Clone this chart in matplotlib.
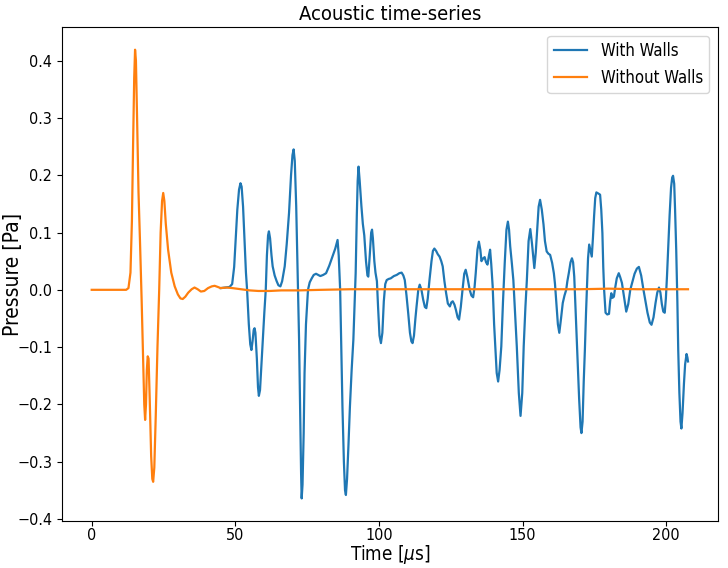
import matplotlib
matplotlib.use("Agg")
import matplotlib.pyplot as plt

plt.rcParams["font.family"] = ["DejaVu Sans"]
plt.rcParams["font.stretch"] = "condensed"

# ---- Data: (time [us], pressure [Pa]) ----
without_walls = [
    (0, 0.0), (3, 0.0), (6, 0.0), (9, 0.0), (12, 0.0), (12.8, 0.003), (13.5, 0.03),
    (14.0, 0.12), (14.4, 0.25), (14.8, 0.37), (15.1, 0.419), (15.4, 0.40), (15.8, 0.30),
    (16.3, 0.17), (16.8, 0.087), (17.4, -0.02), (17.9, -0.12), (18.3, -0.20),
    (18.6, -0.227), (18.9, -0.20), (19.2, -0.14), (19.5, -0.116), (19.8, -0.12),
    (20.2, -0.19), (20.7, -0.29), (21.1, -0.33), (21.4, -0.335), (21.8, -0.31),
    (22.3, -0.22), (22.9, -0.10), (23.5, 0.0), (24.0, 0.10), (24.5, 0.155),
    (24.9, 0.169), (25.3, 0.155), (25.8, 0.115), (26.6, 0.07), (27.7, 0.03),
    (28.9, 0.006), (30.0, -0.008), (30.9, -0.015), (31.7, -0.016), (32.6, -0.012),
    (33.6, -0.005), (34.8, 0.001), (35.8, 0.004), (36.9, 0.001), (38.0, -0.003),
    (39.2, -0.002), (40.5, 0.003), (41.8, 0.006), (42.8, 0.007), (43.9, 0.005),
    (44.9, 0.003), (47, 0.004), (49, 0.003), (52, 0.001), (55, -0.001), (58, -0.002),
    (62, -0.002), (66, -0.001), (72, -0.001), (80, 0.0), (90, 0.001), (100, 0.001),
    (110, 0.001), (120, 0.001), (130, 0.001), (140, 0.001), (150, 0.001), (160, 0.001),
    (170, 0.001), (180, 0.002), (190, 0.001), (200, 0.001), (207.6, 0.001),
]

with_walls = [
    (44.9, 0.003), (46.5, 0.004), (48.0, 0.005), (48.9, 0.01), (49.6, 0.04), (50.1, 0.087),
    (50.7, 0.14), (51.3, 0.175), (51.8, 0.186), (52.2, 0.18), (52.7, 0.145), (53.2, 0.087),
    (53.7, 0.03), (54.1, 0.0), (54.7, -0.06), (55.2, -0.095), (55.6, -0.105), (56.0, -0.09),
    (56.4, -0.07), (56.7, -0.067), (57.0, -0.075), (57.5, -0.12), (57.9, -0.17),
    (58.2, -0.185), (58.6, -0.175), (59.1, -0.13), (59.6, -0.087), (60.1, -0.04),
    (60.6, 0.0), (61.0, 0.06), (61.4, 0.095), (61.7, 0.102), (62.1, 0.09), (62.6, 0.06),
    (63.0, 0.041), (63.7, 0.025), (64.4, 0.015), (65.0, 0.008), (65.7, 0.006),
    (66.3, 0.015), (67.2, 0.041), (67.9, 0.08), (68.7, 0.134), (69.4, 0.20), (69.9, 0.235),
    (70.3, 0.245), (70.7, 0.225), (71.2, 0.146), (71.7, 0.03), (72.2, -0.087),
    (72.6, -0.22), (72.9, -0.32), (73.1, -0.364), (73.4, -0.34), (73.8, -0.25),
    (74.1, -0.146), (74.6, -0.06), (75.3, 0.0), (75.9, 0.013), (76.6, 0.020), (77.3, 0.026),
    (78.1, 0.028), (79.6, 0.024), (80.6, 0.026), (81.6, 0.029), (82.7, 0.042),
    (83.8, 0.058), (84.8, 0.072), (85.6, 0.087), (86.0, 0.06), (86.5, 0.0), (86.9, -0.10),
    (87.3, -0.204), (87.8, -0.30), (88.2, -0.35), (88.5, -0.358), (88.9, -0.33),
    (89.4, -0.27), (89.9, -0.204), (90.5, -0.14), (91.1, -0.087), (91.5, -0.03),
    (91.9, 0.029), (92.3, 0.13), (92.6, 0.19), (92.9, 0.215), (93.3, 0.19), (93.9, 0.146),
    (94.4, 0.115), (94.9, 0.095), (95.5, 0.05), (96.0, 0.025), (96.3, 0.023), (96.8, 0.06),
    (97.3, 0.10), (97.6, 0.105), (97.9, 0.09), (98.4, 0.05), (98.8, 0.03), (99.3, 0.015),
    (99.7, -0.03), (100.2, -0.08), (100.7, -0.093), (101.2, -0.075), (101.7, -0.02),
    (102.2, 0.01), (102.7, 0.017), (103.4, 0.019), (104.1, 0.020), (105.2, 0.024),
    (106.2, 0.026), (107.1, 0.029), (107.9, 0.030), (108.5, 0.025), (109.0, 0.017),
    (109.6, -0.01), (110.2, -0.041), (110.8, -0.075), (111.3, -0.09), (111.7, -0.093),
    (112.2, -0.08), (112.7, -0.05), (113.1, -0.029), (113.7, 0.0), (114.2, 0.009),
    (114.8, 0.0), (115.4, -0.017), (116.0, -0.03), (116.5, -0.032), (117.0, -0.015),
    (117.6, 0.017), (118.3, 0.05), (118.8, 0.068), (119.3, 0.072), (119.9, 0.068),
    (120.5, 0.062), (121.1, 0.058), (121.7, 0.05), (122.2, 0.041), (122.8, 0.015),
    (123.4, -0.006), (124.0, -0.024), (124.7, -0.029), (125.2, -0.022), (125.7, -0.020),
    (126.3, -0.026), (126.8, -0.035), (127.4, -0.048), (127.9, -0.052), (128.5, -0.03),
    (129.1, 0.0), (129.7, 0.028), (130.2, 0.035), (130.8, 0.022), (131.6, 0.0),
    (132.2, -0.01), (132.8, -0.013), (133.3, 0.005), (133.7, 0.029), (134.3, 0.07),
    (134.8, 0.084), (135.3, 0.07), (135.7, 0.050), (136.3, 0.055), (136.8, 0.057),
    (137.3, 0.048), (137.8, 0.044), (138.3, 0.06), (138.7, 0.070), (139.1, 0.045),
    (139.6, 0.006), (140.1, -0.06), (140.5, -0.099), (141.0, -0.145), (141.5, -0.160),
    (142.0, -0.14), (142.6, -0.099), (143.2, -0.02), (143.8, 0.047), (144.4, 0.105),
    (144.9, 0.119), (145.3, 0.105), (145.7, 0.076), (146.3, 0.045), (146.8, 0.017),
    (147.4, -0.04), (148.0, -0.099), (148.7, -0.18), (149.3, -0.220), (149.9, -0.18),
    (150.4, -0.099), (151.0, -0.03), (151.5, 0.017), (152.1, 0.085), (152.7, 0.106),
    (153.3, 0.08), (154.1, 0.038), (154.6, 0.065), (155.1, 0.105), (155.6, 0.145),
    (156.1, 0.157), (156.7, 0.14), (157.3, 0.114), (157.8, 0.085), (158.4, 0.067),
    (159.0, 0.063), (159.6, 0.061), (160.3, 0.047), (160.9, 0.029), (161.3, 0.01),
    (161.7, -0.017), (162.3, -0.06), (162.8, -0.075), (163.4, -0.05), (164.0, -0.023),
    (164.6, -0.01), (165.2, 0.0), (165.6, 0.015), (166.1, 0.029), (166.7, 0.048),
    (167.2, 0.055), (167.6, 0.048), (168.0, 0.023), (168.5, -0.04), (169.0, -0.105),
    (169.7, -0.19), (170.2, -0.24), (170.5, -0.250), (170.9, -0.23), (171.3, -0.16),
    (171.7, -0.105), (172.1, -0.04), (172.4, 0.0), (172.8, 0.055), (173.2, 0.079),
    (173.6, 0.07), (174.1, 0.058), (174.5, 0.09), (174.9, 0.128), (175.3, 0.16),
    (175.7, 0.170), (176.4, 0.168), (177.0, 0.166), (177.4, 0.14), (177.8, 0.099),
    (178.1, 0.04), (178.4, 0.0), (178.9, -0.040), (179.5, -0.043), (180.1, -0.042),
    (180.5, -0.02), (180.9, -0.006), (181.3, -0.014), (181.8, -0.012), (182.2, 0.002),
    (182.8, 0.02), (183.5, 0.029), (184.0, 0.022), (184.6, 0.012), (185.4, -0.015),
    (186.1, -0.038), (186.8, -0.025), (187.5, 0.0), (188.3, 0.015), (189.0, 0.028),
    (189.8, 0.037), (190.5, 0.040), (191.3, 0.025), (192.1, 0.0), (192.8, -0.02),
    (193.5, -0.04), (194.3, -0.057), (194.9, -0.061), (195.6, -0.048), (196.3, -0.023),
    (196.9, -0.005), (197.5, 0.004), (198.0, -0.005), (198.5, -0.025), (199.0, -0.038),
    (199.5, -0.040), (199.9, -0.015), (200.3, 0.025), (200.7, 0.070), (201.2, 0.13),
    (201.7, 0.178), (202.1, 0.196), (202.4, 0.199), (202.8, 0.185), (203.1, 0.14),
    (203.5, 0.070), (203.9, -0.02), (204.2, -0.105), (204.6, -0.18), (205.0, -0.23),
    (205.3, -0.242), (205.7, -0.215), (206.2, -0.163), (206.6, -0.13), (207.1, -0.112),
    (207.4, -0.118), (207.6, -0.125),
]

series_labels = ["With Walls", "Without Walls"]
x_ticks = [0, 50, 100, 150, 200]
y_ticks = [-0.4, -0.3, -0.2, -0.1, 0.0, 0.1, 0.2, 0.3, 0.4]

t_walls = [t for t, _ in with_walls]
p_walls = [p for _, p in with_walls]
t_free = [t for t, _ in without_walls]
p_free = [p for _, p in without_walls]

fig = plt.figure(figsize=(7.28, 5.68), dpi=100)
ax = fig.add_axes([0.085, 0.083, 0.901, 0.869])

ax.plot(t_walls, p_walls, color="#1f77b4", lw=1.6, label=series_labels[0],
        solid_joinstyle="round")
ax.plot(t_free, p_free, color="#ff7f0e", lw=1.6, label=series_labels[1],
        solid_joinstyle="round")

ax.set_title("Acoustic time-series", fontsize=14.5, pad=5)
ax.set_xlabel(r"Time [$\mu$s]", fontsize=13.5)
ax.set_ylabel("Pressure [Pa]", fontsize=15)
ax.xaxis.set_label_coords(0.5, -0.045)
ax.yaxis.set_label_coords(-0.059, 0.5)
ax.tick_params(labelsize=11.5)
ax.tick_params(axis="x", pad=1.5)
ax.set_xticks(x_ticks)
ax.set_yticks(y_ticks)
ax.legend(loc="upper right", fontsize=12)

fig.savefig("out.png", dpi=100)
